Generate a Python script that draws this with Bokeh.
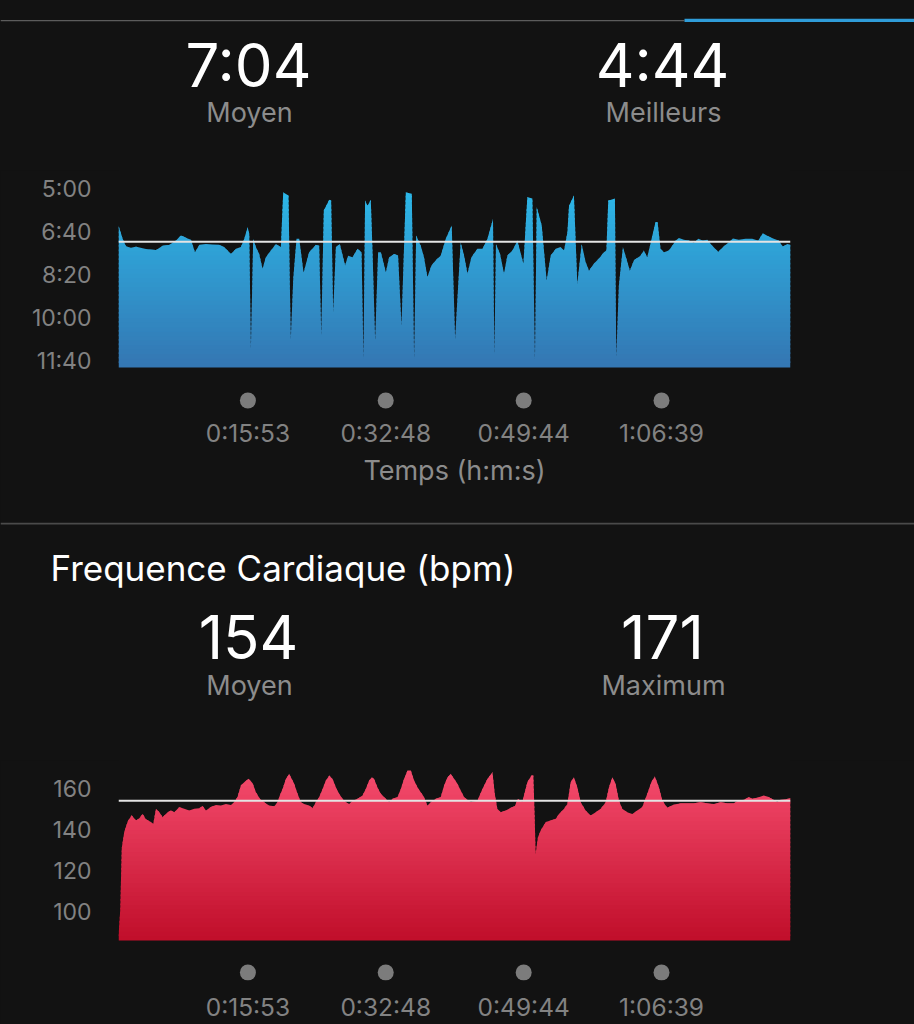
import numpy as np
from bokeh.plotting import figure
from bokeh.models import Range1d, FixedTicker, Span
from bokeh.core.properties import value
from bokeh.layouts import column
from bokeh.embed import file_html
from bokeh.resources import INLINE

# ---------------- data ----------------
pace_time_s = [0, 31, 55, 92, 129, 178, 227, 276, 325, 374,
               423, 460, 509, 534, 563, 595, 644, 693, 742, 779,
               828, 865, 901, 926, 951, 963, 975, 992, 1012, 1036,
               1061, 1085, 1122, 1159, 1196, 1213, 1252, 1262, 1269, 1287,
               1311, 1331, 1363, 1404, 1453, 1478, 1493, 1512, 1552, 1566,
               1581, 1601, 1630, 1669, 1691, 1723, 1760, 1790, 1804, 1816,
               1834, 1858, 1871, 1890, 1912, 1932, 1969, 1993, 2030, 2059,
               2084, 2116, 2160, 2177, 2192, 2226, 2250, 2275, 2305, 2337,
               2373, 2410, 2454, 2479, 2520, 2545, 2570, 2599, 2643, 2680,
               2717, 2758, 2768, 2780, 2810, 2839, 2864, 2901, 2938, 2982,
               3011, 3048, 3067, 3080, 3117, 3153, 3183, 3220, 3256, 3281,
               3306, 3318, 3354, 3379, 3411, 3440, 3465, 3501, 3538, 3575,
               3593, 3607, 3656, 3666, 3685, 3715, 3740, 3766, 3796, 3845,
               3869, 3894, 3926, 3955, 3970, 3992, 4017, 4053, 4078, 4103,
               4127, 4164, 4200, 4237, 4270, 4304, 4336, 4373, 4417, 4458,
               4495, 4525, 4568, 4618, 4667, 4711, 4745, 4785, 4826, 4863,
               4892, 4925, 4949]
pace_s_per_km = [386, 417, 434, 438, 435, 439, 442, 443, 433, 431,
                 421, 409, 416, 419, 448, 431, 429, 430, 431, 436,
                 452, 440, 436, 417, 390, 405, 673, 417, 436, 452,
                 487, 460, 444, 429, 436, 309, 316, 526, 650, 510,
                 417, 417, 496, 448, 431, 433, 642, 351, 326, 328,
                 588, 436, 429, 479, 456, 460, 440, 448, 696, 328,
                 340, 326, 448, 654, 448, 448, 495, 460, 452, 456,
                 619, 309, 312, 696, 409, 433, 460, 506, 479, 467,
                 456, 417, 386, 650, 425, 456, 498, 460, 440, 440,
                 417, 371, 688, 429, 452, 498, 456, 444, 421, 475,
                 320, 323, 700, 343, 386, 514, 456, 440, 436, 444,
                 402, 340, 316, 522, 429, 471, 491, 475, 463, 448,
                 444, 328, 323, 692, 526, 436, 463, 491, 467, 456,
                 444, 460, 417, 378, 378, 440, 448, 444, 433, 421,
                 415, 419, 421, 426, 417, 421, 419, 433, 447, 434,
                 425, 416, 419, 417, 417, 421, 404, 411, 417, 421,
                 435, 429, 431]

hr_time_s = [0, 13, 24, 43, 68, 97, 129, 153, 178, 202,
             239, 256, 276, 300, 325, 362, 386, 411, 447, 484,
             521, 558, 595, 620, 644, 681, 718, 754, 791, 828,
             852, 877, 901, 926, 958, 988, 1012, 1041, 1073, 1110,
             1147, 1171, 1188, 1208, 1233, 1257, 1294, 1319, 1343, 1367,
             1404, 1429, 1453, 1478, 1503, 1527, 1552, 1576, 1601, 1625,
             1650, 1674, 1699, 1728, 1760, 1797, 1821, 1846, 1866, 1882,
             1907, 1932, 1969, 1993, 2018, 2055, 2079, 2103, 2128, 2153,
             2177, 2202, 2226, 2250, 2275, 2300, 2337, 2373, 2398, 2423,
             2447, 2496, 2545, 2594, 2643, 2680, 2717, 2754, 2771, 2790,
             2815, 2852, 2889, 2918, 2942, 2974, 3011, 3041, 3055, 3065,
             3072, 3089, 3109, 3146, 3183, 3220, 3244, 3281, 3306, 3330,
             3354, 3379, 3404, 3440, 3477, 3514, 3551, 3588, 3612, 3637,
             3661, 3685, 3710, 3747, 3784, 3821, 3857, 3894, 3924, 3950,
             3980, 4005, 4042, 4090, 4139, 4189, 4237, 4287, 4336, 4385,
             4434, 4483, 4532, 4568, 4605, 4642, 4667, 4704, 4752, 4789,
             4826, 4851, 4875, 4912, 4949]
hr_bpm = [88, 101, 131, 139, 144, 147, 144.4, 145.5, 147.6, 145,
          143.6, 142.8, 150.1, 148.5, 146, 148.4, 149.3, 148.4, 150.9, 150.1,
          149.3, 150.1, 150.4, 151.4, 149.3, 151, 152, 151.7, 152.5, 152,
          153.3, 156, 161.5, 163.1, 164.7, 162.6, 158.2, 155, 153.3, 151.7,
          151.4, 153.3, 156.6, 159.8, 164.7, 167.2, 162.3, 157.4, 153.3, 152.5,
          151.7, 150.4, 153.3, 155.8, 159.8, 163.9, 166.3, 164.7, 160.6, 157.4,
          155, 153.3, 152.5, 154.1, 155, 156.6, 159.8, 163.9, 165.5, 164.7,
          160.6, 157.4, 155, 153.3, 155, 155.8, 159.8, 164.7, 168.8, 168.8,
          163.9, 160.6, 158.2, 155.8, 151.7, 153.3, 155, 155.8, 161.5, 165.5,
          167.2, 162.3, 155.8, 153.3, 154, 159.8, 164.7, 168, 157.4, 150.1,
          148.4, 149.3, 150.6, 151.4, 155, 153.5, 163.1, 166.3, 166.3, 146,
          128.1, 136.2, 139.5, 143.6, 144.4, 145.2, 147.6, 150.1, 152.5, 163.1,
          165.5, 160.6, 153.3, 149.3, 146.8, 148.4, 150.1, 153.3, 160.6, 165.5,
          162.3, 154.2, 150.1, 148.4, 147.6, 149.3, 150.9, 157.4, 163.1, 165.9,
          160.6, 154.1, 150.6, 152.2, 152.8, 152.8, 152.8, 153.3, 152.8, 152.5,
          153.3, 152.8, 152.8, 154.1, 154.5, 155.8, 155, 155.5, 156.6, 155.8,
          154.5, 153.3, 154.5, 154.8, 155.3]

pace_avg_label = "7:04"
pace_best_label = "4:44"
hr_avg_label = "154"
hr_max_label = "171"
pace_tick_labels = ["5:00", "6:40", "8:20", "10:00", "11:40"]
hr_tick_values = [100, 120, 140, 160]
time_tick_labels = ["0:15:53", "0:32:48", "0:49:44", "1:06:39"]
total_time_s = 4949


def mmss(s):
    m, sec = s.split(":")
    return int(m) * 60 + int(sec)


def hms(s):
    h, m, sec = s.split(":")
    return int(h) * 3600 + int(m) * 60 + int(sec)


pace_ticks = [mmss(t) for t in pace_tick_labels]
time_ticks = [hms(t) for t in time_tick_labels]

# ---------------- styles ----------------
BG = "#121212"
FONT = "Inter"
GREY_TXT = "#8c8c8c"
TICK_TXT = "#828282"
DOT = "#7c7c7c"
W = 914


def mix(c1, c2, t):
    return "#%02x%02x%02x" % tuple(int(round(a + (b - a) * t)) for a, b in zip(c1, c2))


def refine(x, y, levels):
    xs, ys = [x[0]], [y[0]]
    for i in range(len(x) - 1):
        x0, y0, x1, y1 = x[i], y[i], x[i + 1], y[i + 1]
        if y1 != y0:
            lo, hi = min(y0, y1), max(y0, y1)
            cr = sorted((L for L in levels if lo < L < hi), key=lambda L: (L - y0) / (y1 - y0))
            for L in cr:
                f = (L - y0) / (y1 - y0)
                xs.append(x0 + f * (x1 - x0))
                ys.append(L)
        xs.append(x1)
        ys.append(y1)
    return np.array(xs, float), np.array(ys, float)


def gradient_area(p, x, y, top, base, c_top, c_bot, n=40):
    edges = np.linspace(top, base, n + 1)
    step = edges[1] - edges[0]
    nears = [edges[i] - (0.4 * step if i > 0 else 200 * step) for i in range(n)]
    xr, yr = refine(list(map(float, x)), list(map(float, y)), list(edges) + nears)
    for i in range(n - 1, -1, -1):
        near, far = nears[i], edges[i + 1]
        lo, hi = min(near, far), max(near, far)
        p.varea(x=xr, y1=np.clip(yr, lo, hi), y2=np.full_like(yr, far),
                fill_color=mix(c_top, c_bot, (i + 0.5) / n), fill_alpha=1.0)


def base_fig(height, **kw):
    p = figure(width=W, height=height, output_backend="svg", toolbar_location=None,
               background_fill_color=None, border_fill_color=BG,
               outline_line_color=None, **kw)
    p.outline_line_color = None
    p.grid.visible = False
    return p


def style_chart(p):
    for ax in p.axis:
        ax.axis_line_color = None
        ax.major_tick_line_color = None
        ax.minor_tick_line_color = None
        ax.major_tick_in = 0
        ax.major_tick_out = 0
        ax.major_label_text_font = FONT
        ax.major_label_text_color = TICK_TXT
    p.yaxis.major_label_text_font_size = "23px"
    p.yaxis.major_label_standoff = 27
    p.xaxis.major_label_text_font_size = "24.5px"
    p.xaxis.ticker = FixedTicker(ticks=time_ticks)
    p.xaxis.major_label_overrides = dict(zip(time_ticks, time_tick_labels))


def header_fig(height):
    p = base_fig(height, x_range=Range1d(0, W), y_range=Range1d(height, 0),
                 x_axis_type=None, y_axis_type=None, min_border=0, frame_align=False)
    return p


def htext(p, top, txt, px, py, size, color, align="center"):
    # px, py: position in the page
    p.text(x=[px], y=[py - top], text=[txt], text_font=value(FONT),
           text_font_size=value(f"{size}px"), text_color=color,
           text_align=align, text_baseline="middle")


# ---------------- header of the pace section (page y 0..170) ----------------
h1 = header_fig(170)
h1.quad(left=[0], right=[684], top=[19.5], bottom=[20.8], fill_color="#5c5c5c", line_color=None)
h1.quad(left=[684], right=[W], top=[18.3], bottom=[21.6], fill_color="#2f9cd8", line_color=None)
htext(h1, 0, pace_avg_label, 248, 64, 60, "#ffffff")
htext(h1, 0, "Moyen", 249, 112, 27, GREY_TXT)
htext(h1, 0, pace_best_label, 662, 64, 60, "#ffffff")
htext(h1, 0, "Meilleurs", 663, 112, 27, GREY_TXT)

# ---------------- pace chart (page y 170..522) ----------------
p1 = base_fig(352, x_range=Range1d(0, total_time_s), y_range=Range1d(820.9, 258.1),
              min_border_left=118, min_border_right=124,
              min_border_top=0, min_border_bottom=110)
style_chart(p1)
p1.yaxis.ticker = FixedTicker(ticks=pace_ticks)
p1.yaxis.major_label_overrides = dict(zip(pace_ticks, pace_tick_labels))
p1.xaxis.major_label_standoff = 5
p1.xaxis.axis_label = "Temps (h:m:s)"
p1.xaxis.axis_label_text_font = FONT
p1.xaxis.axis_label_text_font_style = "normal"
p1.xaxis.axis_label_text_font_size = "27px"
p1.xaxis.axis_label_text_color = GREY_TXT
p1.xaxis.axis_label_standoff = 3

gradient_area(p1, pace_time_s, pace_s_per_km, 300, 716.3,
              (44, 184, 233), (52, 118, 178))
p1.add_layout(Span(location=mmss(pace_avg_label), dimension="width",
                   line_color="#e4e4e4", line_width=2))
p1.scatter(x=time_ticks, y=[793] * len(time_ticks), size=16,
           fill_color=DOT, line_color=None)

# ---------------- header of the heart-rate section (page y 522..760) ----------------
h2 = header_fig(238)
h2.quad(left=[0], right=[W], top=[0], bottom=[2], fill_color="#4a4a4a", line_color=None)
htext(h2, 522, "Frequence Cardiaque (bpm)", 50, 567, 35, "#ffffff", align="left")
htext(h2, 522, hr_avg_label, 248, 636, 60, "#ffffff")
htext(h2, 522, "Moyen", 249, 685, 27, GREY_TXT)
htext(h2, 522, hr_max_label, 662, 636, 60, "#ffffff")
htext(h2, 522, "Maximum", 663, 685, 27, GREY_TXT)

# ---------------- heart-rate chart (page y 760..1024) ----------------
p2 = base_fig(264, x_range=Range1d(0, total_time_s), y_range=Range1d(66.34, 173.66),
              min_border_left=118, min_border_right=124,
              min_border_top=0, min_border_bottom=44)
style_chart(p2)
p2.yaxis.ticker = FixedTicker(ticks=hr_tick_values)
p2.xaxis.major_label_standoff = 11

gradient_area(p2, hr_time_s, hr_bpm, 172, 85.85,
              (247, 78, 112), (192, 14, 42))
p2.add_layout(Span(location=float(hr_avg_label), dimension="width",
                   line_color="#e4e4e4", line_width=2))
p2.scatter(x=time_ticks, y=[70.24] * len(time_ticks), size=16,
           fill_color=DOT, line_color=None)

layout = column(h1, p1, h2, p2, spacing=0, styles={"background-color": BG})

with open("out.html", "w") as f:
    f.write(file_html(layout, INLINE))
